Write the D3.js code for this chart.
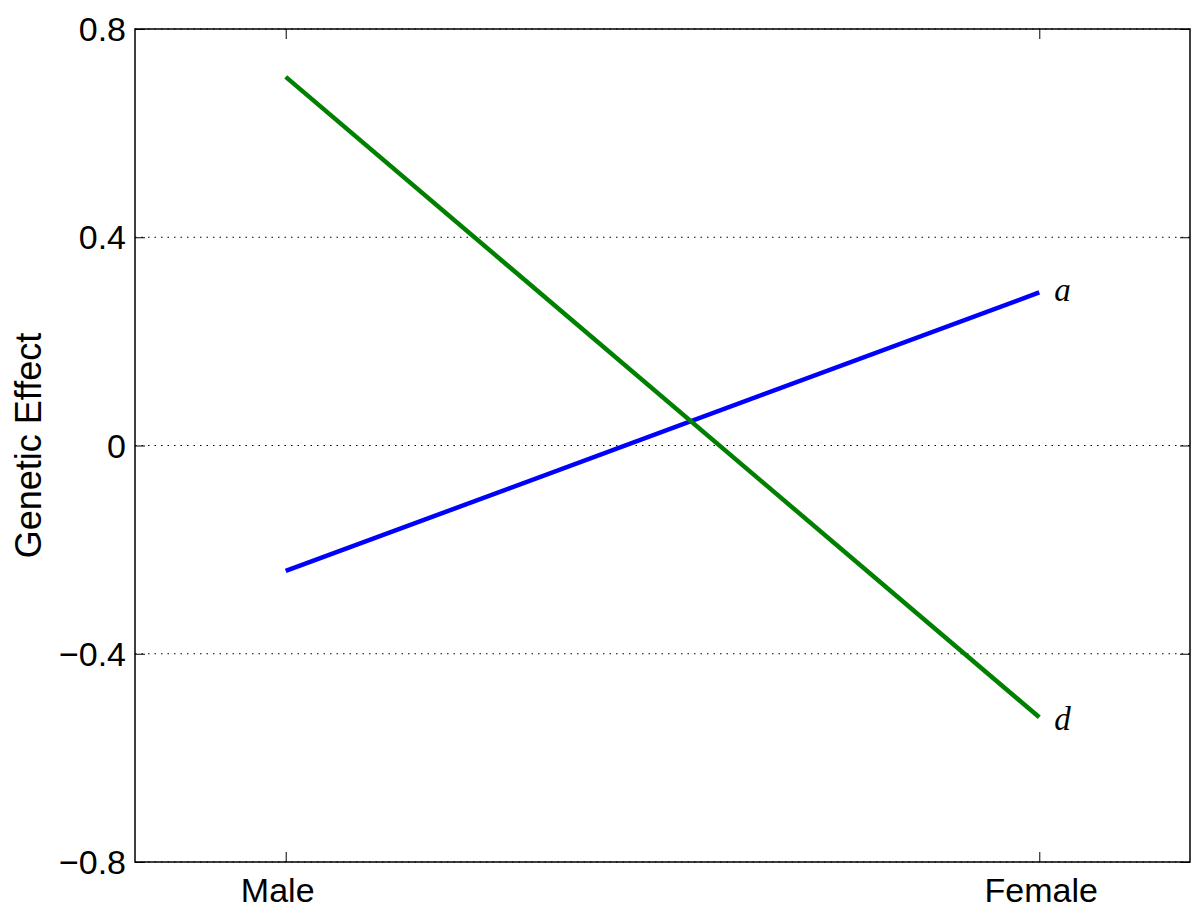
<!DOCTYPE html>
<html lang="en">
<head>
    <meta charset="UTF-8">
    <title>Genetic Effect</title>
    <style>
        body {
            margin: 0;
            padding: 0;
            overflow: hidden;
            background: #fff;
        }
        .sans {
            font-family: "Liberation Sans", Arial, Helvetica, sans-serif;
        }
        .math {
            font-family: "Liberation Serif", "DejaVu Serif", serif;
            font-style: italic;
        }
    </style>
</head>
<body>
<svg id="graph" width="1200" height="911"></svg>
<script src="https://cdn.jsdelivr.net/npm/d3@7"></script>
<script>
    // data
    const categories = ["Male", "Female"];
    const seriesA = [-0.241, 0.294];
    const seriesD = [0.708, -0.522];
    const yTicks = [-0.8, -0.4, 0, 0.4, 0.8];

    const series = [
        {name: "a", values: seriesA, color: "#0000ff"},
        {name: "d", values: seriesD, color: "#008000"}
    ];

    const w = 1200, h = 911;
    const margin = {top: 29, right: 10, bottom: 49, left: 135};
    const svg = d3.select("#graph");

    const x = d3.scaleLinear()
        .domain([0.8, 2.2])
        .range([margin.left, w - margin.right]);
    const y = d3.scaleLinear()
        .domain([-0.8, 0.8])
        .range([h - margin.bottom, margin.top]);

    const fmt = d => d === 0 ? "0" : (d < 0 ? "\u2212" : "") + Math.abs(d).toFixed(1);

    // dotted grid
    svg.append("g")
        .selectAll("line")
        .data(yTicks)
        .enter().append("line")
        .attr("x1", x.range()[0])
        .attr("x2", x.range()[1])
        .attr("y1", d => y(d))
        .attr("y2", d => y(d))
        .attr("stroke", "#000")
        .attr("stroke-width", 1)
        .attr("stroke-dasharray", "1.5,5");

    // axes with inward ticks
    const tick = 10;
    const xi = categories.map((c, i) => i + 1);

    const axisLeft = svg.append("g")
        .attr("transform", `translate(${margin.left},0)`)
        .call(d3.axisRight(y).tickValues(yTicks).tickSize(tick).tickFormat(""));
    const axisRight = svg.append("g")
        .attr("transform", `translate(${w - margin.right},0)`)
        .call(d3.axisLeft(y).tickValues(yTicks).tickSize(tick).tickFormat(""));
    const axisBottom = svg.append("g")
        .attr("transform", `translate(0,${h - margin.bottom})`)
        .call(d3.axisTop(x).tickValues(xi).tickSize(tick).tickFormat(""));
    const axisTop = svg.append("g")
        .attr("transform", `translate(0,${margin.top})`)
        .call(d3.axisBottom(x).tickValues(xi).tickSize(tick).tickFormat(""));

    [axisLeft, axisRight, axisBottom, axisTop].forEach(g => {
        g.select(".domain").remove();
        g.selectAll(".tick line").attr("stroke", "#000").attr("stroke-width", 1);
    });

    // box
    svg.append("rect")
        .attr("x", x.range()[0])
        .attr("y", y.range()[1])
        .attr("width", x.range()[1] - x.range()[0])
        .attr("height", y.range()[0] - y.range()[1])
        .attr("fill", "none")
        .attr("stroke", "#000")
        .attr("stroke-width", 1.5);

    // tick labels
    svg.append("g")
        .selectAll("text")
        .data(yTicks)
        .enter().append("text")
        .attr("class", "sans")
        .attr("x", margin.left - 9)
        .attr("y", d => y(d))
        .attr("dy", "0.36em")
        .attr("text-anchor", "end")
        .attr("font-size", 34)
        .text(fmt);

    svg.append("g")
        .selectAll("text")
        .data(categories)
        .enter().append("text")
        .attr("class", "sans")
        .attr("x", (d, i) => x(i + 1) - (i === 0 ? 8 : -2))
        .attr("y", 902)
        .attr("text-anchor", "middle")
        .attr("font-size", 34)
        .text(d => d);

    svg.append("text")
        .attr("class", "sans")
        .attr("transform", `translate(41,${(y.range()[0] + y.range()[1]) / 2}) rotate(-90)`)
        .attr("text-anchor", "middle")
        .attr("font-size", 36)
        .text("Genetic Effect");

    // lines
    const line = d3.line()
        .x((d, i) => x(i + 1))
        .y(d => y(d));

    svg.append("g")
        .selectAll("path")
        .data(series)
        .enter().append("path")
        .attr("d", d => line(d.values))
        .attr("fill", "none")
        .attr("stroke", d => d.color)
        .attr("stroke-width", 4.5);

    // series labels
    svg.append("g")
        .selectAll("text")
        .data(series)
        .enter().append("text")
        .attr("class", "math")
        .attr("x", x(2) + 15)
        .attr("y", d => y(d.values[1]))
        .attr("dy", d => d.name === "a" ? "0.27em" : "0.38em")
        .attr("font-size", 33)
        .text(d => d.name);
</script>
</body>
</html>
